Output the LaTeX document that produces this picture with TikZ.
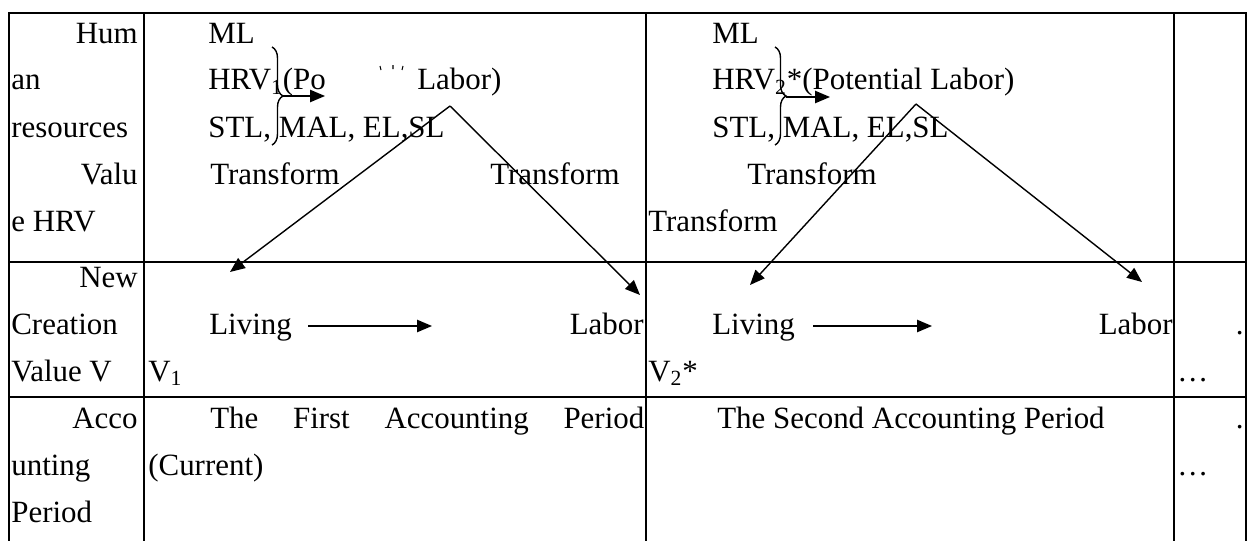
\documentclass[tikz,border=0pt]{standalone}
\usepackage{fontspec}
\setmainfont{Liberation Serif}
\usepackage{tikz}
\usetikzlibrary{arrows.meta,decorations.pathreplacing}

\begin{document}
\begin{tikzpicture}[x=0.02cm, y=-0.02cm,
  cell/.style={inner sep=0pt, anchor=base west, font={\fontsize{17.6pt}{21pt}\selectfont}},
  cellr/.style={cell, anchor=base east},
  grid/.style={line width=1.1pt},
  flow/.style={line width=0.8pt, -{Triangle[length=8.5pt,width=7pt]}},
  bracket/.style={line width=0.8pt, decorate, decoration={brace, amplitude=0.22cm}}
]
\useasboundingbox (0,0) rectangle (1252,541);
\draw[grid] (9,541) -- (9,13) -- (1246,13) -- (1246,541);
\draw[grid] (144,13) -- (144,541);
\draw[grid] (646,13) -- (646,541);
\draw[grid] (1174,13) -- (1174,541);
\draw[grid] (9,262) -- (1246,262);
\draw[grid] (9,397) -- (1246,397);

\node[cellr] (h1) at (138,43) {Hum};
\node[cell] (h2) at (11,90) {an};
\node[cell] (h3) at (11,137) {resources};
\node[cellr] (h4) at (138,184) {Valu};
\node[cell] (h5) at (11,231) {e HRV};
\node[cellr] (n1) at (138,287) {New};
\node[cell] (n2) at (11,334) {Creation};
\node[cell] (n3) at (11,381) {Value V};
\node[cellr] (a1) at (138,428) {Acco};
\node[cell] (a2) at (11,475) {unting};
\node[cell] (a3) at (11,522) {Period};

\node[cell] (ml1) at (208,43) {ML};
\node[cell] (hrv1) at (208,90) {HRV\textsubscript{1}(Po};
\node[cell] (pl1) at (417,90) {Labor)};
\node[cell] (stl1) at (208,137) {STL, MAL, EL,SL};
\node[cell] (tl1) at (210,184) {Transform};
\node[cell] (tr1) at (490,184) {Transform};
\node[cell] (lv1) at (209,334) {Living};
\node[cellr] (lb1) at (644,334) {Labor};
\node[cell] (v1) at (148,381) {V\textsubscript{1}};
\node[cell] (p1) at (210,428) {\makebox[8.68cm][s]{The First Accounting Period}};
\node[cell] (c1) at (148,475) {(Current)};

\node[cell] (ml2) at (712,43) {ML};
\node[cell] (hrv2) at (712,90) {HRV\textsubscript{2}*(Potential Labor)};
\node[cell] (stl2) at (712,137) {STL, MAL, EL,SL};
\node[cell] (tl2) at (747,184) {Transform};
\node[cell] (tr2) at (648,231) {Transform};
\node[cell] (lv2) at (712,334) {Living};
\node[cellr] (lb2) at (1173,334) {Labor};
\node[cell] (v2) at (648,381) {V\textsubscript{2}*};
\node[cell] (p2) at (717,428) {The Second Accounting Period};

\node[cellr] (dt1) at (1244,334) {.};
\node[cell] (el1) at (1177,381) {…};
\node[cellr] (dt2) at (1244,428) {.};
\node[cell] (el2) at (1177,475) {…};

\draw[line width=0.6pt] (380,66) -- (381,70) (393,65) -- (393,69) (403,66) -- (402,70);

\coordinate (k1) at (283,96);
\coordinate (k1e) at (325,96);
\coordinate (k2) at (786,97);
\coordinate (k2e) at (830,97);
\draw[bracket] (272,47) -- (272,145);
\draw[bracket] (775,47) -- (775,145);
\draw[flow] (k1) -- (k1e);
\draw[flow] (k2) -- (k2e);

\coordinate (t1) at (450,106);
\coordinate (l1) at (230,272);
\coordinate (r1) at (640,295);
\coordinate (t2) at (916,104);
\coordinate (l2) at (750,285);
\coordinate (r2) at (1142,282);
\draw[flow] (t1) -- (l1);
\draw[flow] (t1) -- (r1);
\draw[flow] (t2) -- (l2);
\draw[flow] (t2) -- (r2);

\coordinate (lva1) at (308,326);
\coordinate (lvb1) at (432,326);
\coordinate (lva2) at (813,326);
\coordinate (lvb2) at (932,326);
\draw[flow] (lva1) -- (lvb1);
\draw[flow] (lva2) -- (lvb2);
\end{tikzpicture}
\end{document}
